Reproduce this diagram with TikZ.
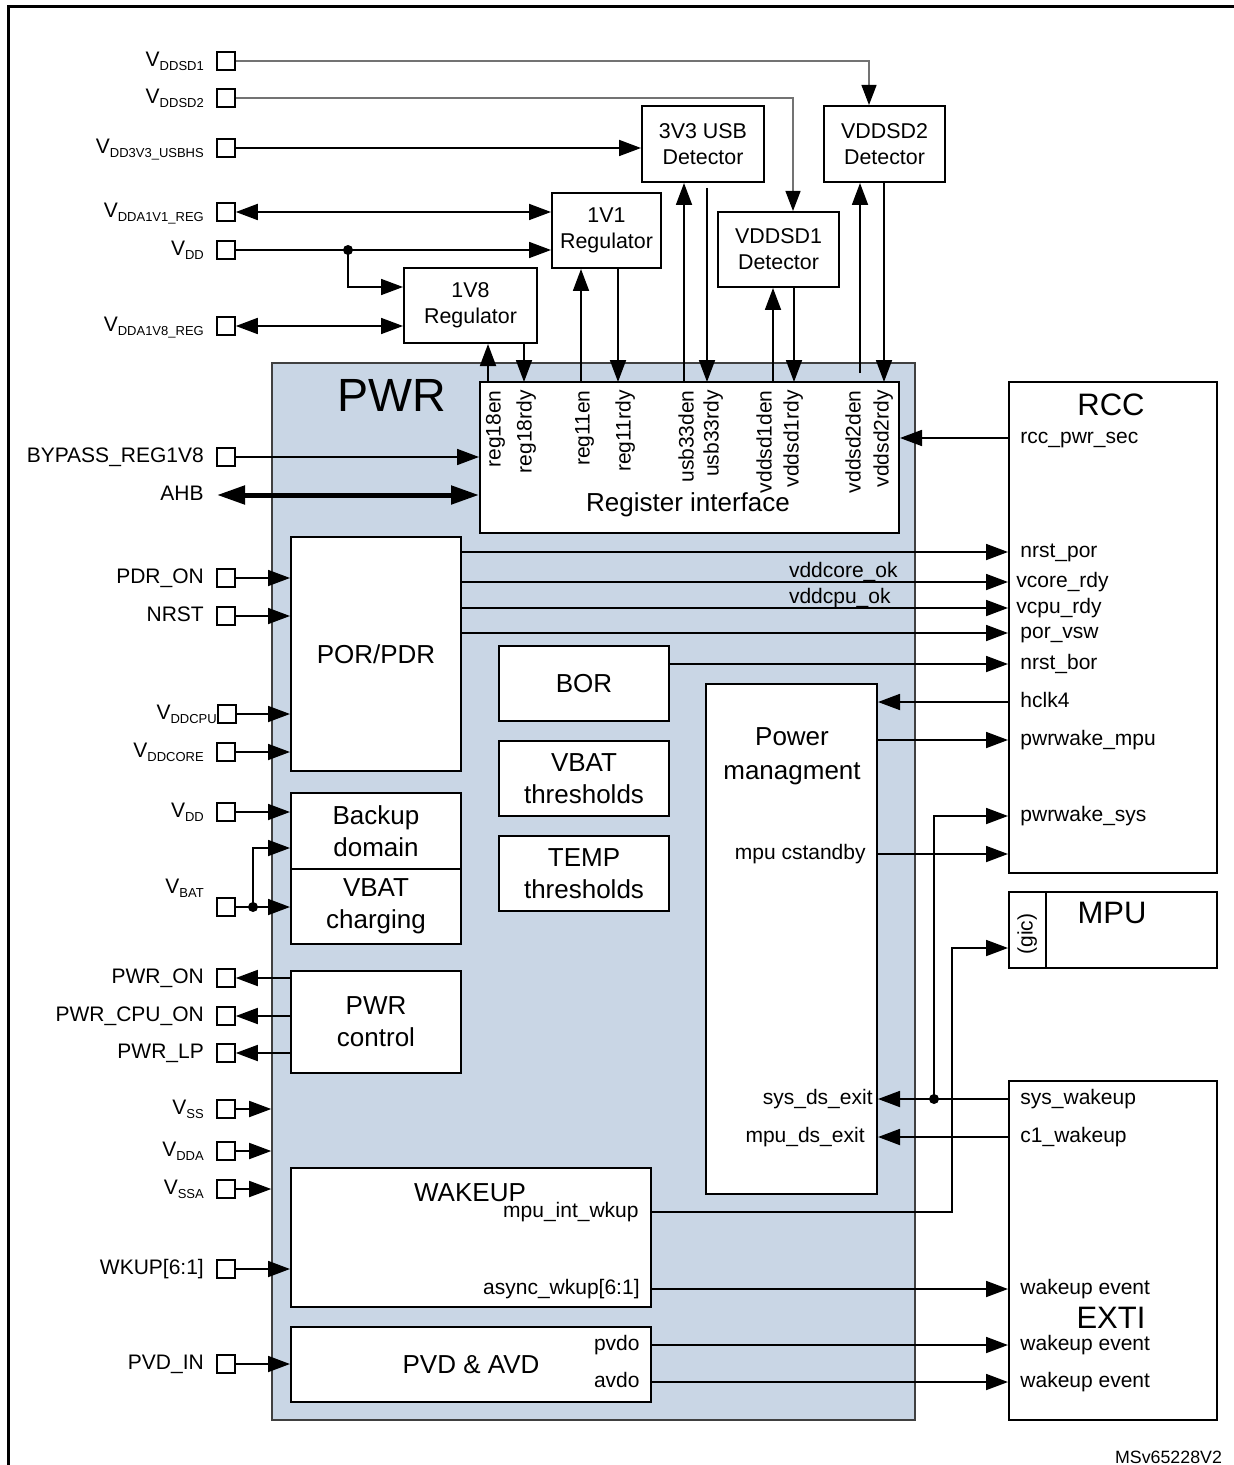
\documentclass[tikz,border=0pt]{standalone}
\usepackage{fontspec}
\setmainfont{Liberation Sans}
\usetikzlibrary{arrows.meta}

\definecolor{pwrblue}{RGB}{201,214,229}
\newcommand\vname[1]{V\raisebox{-2pt}{\fontsize{6.5}{7}\selectfont #1}}

\tikzset{
  boxat/.style n args={4}{minimum width={(#3-#1)*0.5pt},minimum height={(#4-#2)*0.5pt},
    at={({(#1+#3)/2},{(#2+#4)/2})}},
  blk/.style={draw,fill=white,line width=1pt,inner sep=0pt,align=center,
    font=\fontsize{13}{16}\selectfont},
  det/.style={blk,font=\fontsize{10.7}{13}\selectfont},
  pin/.style={draw,fill=white,line width=0.8pt,minimum size=9pt,inner sep=0pt},
  lbl/.style={inner sep=0pt,text height=7.7pt,text depth=2.2pt,
    font=\fontsize{10.5}{12}\selectfont},
  ttl/.style={inner sep=0pt,font=\fontsize{15.5}{16}\selectfont},
  sig/.style={line width=0.9pt,-{Triangle[length=11pt,width=8pt]}},
  bsig/.style={line width=0.9pt,{Triangle[length=11pt,width=8pt]}-{Triangle[length=11pt,width=8pt]}},
  bus/.style={line width=2.5pt,{Triangle[length=14pt,width=9pt]}-{Triangle[length=14pt,width=9pt]}},
  dot/.style={circle,fill,inner sep=0pt,minimum size=5pt},
}

\begin{document}
\begin{tikzpicture}[x=0.5pt,y=-0.5pt]
\useasboundingbox (0,0) rectangle (1234,1465);
\draw[line width=1.5pt] (8,1470) -- (8,7) -- (1245,7);

% PWR block
\node[boxat={272}{363}{915}{1420},draw=black!75,fill=pwrblue,line width=0.8pt,inner sep=0pt] (pwr) {};
\node[font=\fontsize{23.3}{24}\selectfont] at (392,395) {PWR};

% regulators and detectors
\node[det,boxat={642}{106}{764}{182}] (d33) {3V3 USB\\Detector};
\node[det,boxat={824}{106}{945}{182}] (dsd2) {VDDSD2\\Detector};
\node[det,boxat={718}{212}{839}{287}] (dsd1) {VDDSD1\\Detector};
\node[det,boxat={552}{193}{661}{268}] (r11) {1V1\\Regulator};
\node[det,boxat={404}{268}{537}{343}] (r18) {1V8\\Regulator};

% blocks inside PWR
\node[blk,boxat={480}{382}{899}{533}] (ri) {};
\node[blk,draw=none,fill=none] at (688,505) {Register interface};
\node[blk,boxat={291}{537}{461}{771}] (por) {POR/PDR};
\node[blk,boxat={499}{646}{669}{721}] (bor) {BOR};
\node[blk,boxat={499}{741}{669}{816}] (vbth) {VBAT\\thresholds};
\node[blk,boxat={499}{836}{669}{911}] (tmth) {TEMP\\thresholds};
\node[blk,boxat={291}{793}{461}{869}] (bkp) {Backup\\domain};
\node[blk,boxat={291}{869}{461}{944}] (vchg) {VBAT\\charging};
\node[blk,boxat={291}{971}{461}{1073}] (pctl) {PWR\\control};
\node[blk,boxat={706}{684}{877}{1194}] (pm) {};
\node[blk,draw=none,fill=none,font=\fontsize{13}{17}\selectfont] at (792,756) {Power\\managment};
\node[blk,boxat={291}{1168}{651}{1307}] (wak) {};
\node[blk,draw=none,fill=none] at (470,1193) {WAKEUP};
\node[blk,boxat={291}{1327}{651}{1402}] (pvd) {PVD \& AVD};

% outside blocks
\node[blk,boxat={1009}{382}{1217}{873}] (rcc) {};
\node[ttl] at (1111,405) {RCC};
\node[blk,boxat={1009}{892}{1217}{968}] (mpu) {};
\draw[line width=1pt] ([xshift=19pt]mpu.north west) -- ([xshift=19pt]mpu.south west);
\node[lbl,rotate=90] at (1027,934) {(gic)};
\node[ttl] at (1112,913) {MPU};
\node[blk,boxat={1009}{1081}{1217}{1420}] (exti) {};
\node[ttl] at (1111,1318) {EXTI};

% register interface bits
\foreach \x/\t in {495/reg18en,526/reg18rdy,584/reg11en,625/reg11rdy,688/usb33den,
  713/usb33rdy,766/vddsd1den,793/vddsd1rdy,855/vddsd2den,883/vddsd2rdy}
  \node[lbl,rotate=90,anchor=east] at (\x,390) {\t};
\foreach \n/\x in {c18en/488,c18rdy/524,c11en/581,c11rdy/618,c33den/684,
  c33rdy/707,cs1den/773,cs1rdy/794,cs2den/860,cs2rdy/884}
  \coordinate (\n) at (\x,382);

% pins
\foreach \n/\y/\t in {pSD1/61/{\vname{DDSD1}},pSD2/98/{\vname{DDSD2}},
  pUSB/148/{\vname{DD3V3\_USBHS}},pA1V1/212/{\vname{DDA1V1\_REG}},
  pVDD/250/{\vname{DD}},pA1V8/326/{\vname{DDA1V8\_REG}},
  pBYP/457/{BYPASS\_REG1V8},pPDR/578/{PDR\_ON},pNRST/616/{NRST},
  pCORE/752/{\vname{DDCORE}},pVDD2/812/{\vname{DD}},
  pPON/978/{PWR\_ON},pPCPU/1016/{PWR\_CPU\_ON},pPLP/1053/{PWR\_LP},
  pVSS/1109/{\vname{SS}},pVDDA/1151/{\vname{DDA}},pVSSA/1189/{\vname{SSA}},
  pWKUP/1269/{WKUP[6:1]},pPVD/1364/{PVD\_IN}}{
  \node[pin] (\n) at (226,\y) {};
  \node[lbl,anchor=east] at ([xshift=-6pt]\n.west) {\t};
}
\node[pin] (pCPU) at (227,714) {};
\node[lbl,anchor=east] at (pCPU.west) {\vname{DDCPU}};
\node[pin] (pVBAT) at (226,907) {};
\node[lbl,anchor=east] at ([xshift=-6pt,yshift=9.5pt]pVBAT.west) {\vname{BAT}};
\node[lbl,anchor=east] (ahb) at (204,495) {AHB};

% RCC side labels
\foreach \n/\x/\y/\t in {rSec/1020/438/rcc\_pwr\_sec,rNpor/1020/552/nrst\_por,
  rCore/1016/582/vcore\_rdy,rCpu/1016/608/vcpu\_rdy,rVsw/1020/633/por\_vsw,
  rNbor/1020/664/nrst\_bor,rHclk/1020/702/hclk4,rWmpu/1020/740/pwrwake\_mpu,
  rWsys/1020/816/pwrwake\_sys,eSys/1020/1099/sys\_wakeup,eC1/1020/1137/c1\_wakeup,
  eW1/1020/1289/wakeup event,eW2/1020/1345/wakeup event,eW3/1020/1382/wakeup event}
  \node[lbl,anchor=west] (\n) at (\x,\y) {\t};

% labels inside PWR blocks
\node[lbl,anchor=base east] (okcore) at (898,577) {vddcore\_ok};
\node[lbl,anchor=base east] (okcpu) at (891,603) {vddcpu\_ok};
\node[lbl,anchor=east] (mStby) at (866,854) {mpu cstandby};
\node[lbl,anchor=east] (mSys) at (873,1099) {sys\_ds\_exit};
\node[lbl,anchor=east] (mMpu) at (865,1137) {mpu\_ds\_exit};
\node[lbl,anchor=east] (wInt) at (639,1212) {mpu\_int\_wkup};
\node[lbl,anchor=east] (wAsync) at (640,1289) {async\_wkup[6:1]};
\node[lbl,anchor=east] (vPvdo) at (640,1345) {pvdo};
\node[lbl,anchor=east] (vAvdo) at (640,1382) {avdo};

% supplies on top
\draw[line width=0.6pt,draw=black!55,-{Triangle[length=10pt,width=7.5pt,black]}]
  (pSD1.east) -| ([xshift=-7.75pt]dsd2.north);
\draw[line width=0.6pt,draw=black!55,-{Triangle[length=10pt,width=7.5pt,black]}]
  (pSD2.east) -| ([xshift=7.25pt]dsd1.north);
\draw[sig] (pUSB.east) -- (d33.west |- pUSB);
\draw[bsig] (pA1V1.east) -- (r11.west |- pA1V1);
\draw[sig] (pVDD.east) -- (r11.west |- pVDD);
\node[dot] (j1) at (348,250) {};
\draw[sig] (j1.center) |- ([yshift=9.25pt]r18.west);
\draw[bsig] (pA1V8.east) -- (r18.west |- pA1V8);

% enable / ready
\draw[sig] (c18en) -- (c18en |- r18.south);
\draw[sig] (c18rdy |- r18.south) -- (c18rdy);
\draw[sig] (c11en) -- (c11en |- r11.south);
\draw[sig] (c11rdy |- r11.south) -- (c11rdy);
\draw[sig] (c33den) -- (c33den |- d33.south);
\draw[sig] ([yshift=-2.5pt]c33rdy |- d33.south) -- (c33rdy);
\draw[sig] (cs1den) -- (cs1den |- dsd1.south);
\draw[sig] (cs1rdy |- dsd1.south) -- (cs1rdy);
\draw[sig] ([yshift=4.5pt]cs2den) -- (cs2den |- dsd2.south);
\draw[sig] (cs2rdy |- dsd2.south) -- (cs2rdy);

% left side
\draw[sig] (pBYP.east) -- (ri.west |- pBYP);
\draw[bus] ([xshift=6.5pt]ahb.east) -- (ri.west |- ahb.east);
\draw[sig] (pPDR.east) -- (por.west |- pPDR);
\draw[sig] (pNRST.east) -- (por.west |- pNRST);
\draw[sig] (pCPU.east) -- (por.west |- pCPU);
\draw[sig] (pCORE.east) -- (por.west |- pCORE);
\draw[sig] (pVDD2.east) -- (bkp.west |- pVDD2);
\draw[sig] (pVBAT.east) -- (vchg.west |- pVBAT);
\node[dot] (j2) at (253,907) {};
\draw[sig] (j2.center) |- ([yshift=-8.5pt]bkp.west);
\draw[sig] (pctl.west |- pPON) -- (pPON.east);
\draw[sig] (pctl.west |- pPCPU) -- (pPCPU.east);
\draw[sig] (pctl.west |- pPLP) -- (pPLP.east);
\draw[sig] (pVSS.east) -- (pwr.west |- pVSS);
\draw[sig] (pVDDA.east) -- (pwr.west |- pVDDA);
\draw[sig] (pVSSA.east) -- (pwr.west |- pVSSA);
\draw[sig] (pWKUP.east) -- (wak.west |- pWKUP);
\draw[sig] (pPVD.east) -- (pvd.west |- pPVD);

% right side
\draw[sig] (rcc.west |- rSec) -- (ri.east |- rSec);
\draw[sig] (por.east |- rNpor) -- (rcc.west |- rNpor);
\draw[sig] (por.east |- rCore) -- (rcc.west |- rCore);
\draw[sig] (por.east |- rCpu) -- (rcc.west |- rCpu);
\draw[sig] (por.east |- rVsw) -- (rcc.west |- rVsw);
\draw[sig] (bor.east |- rNbor) -- (rcc.west |- rNbor);
\draw[sig] (rcc.west |- rHclk) -- (pm.east |- rHclk);
\draw[sig] (pm.east |- rWmpu) -- (rcc.west |- rWmpu);
\draw[sig] (pm.east |- mStby) -- (rcc.west |- mStby);
\draw[sig] (exti.west |- eSys) -- (pm.east |- eSys);
\node[dot] (j3) at (934,1099) {};
\draw[sig] (j3.center) |- (rcc.west |- rWsys);
\draw[sig] (exti.west |- eC1) -- (pm.east |- eC1);
\coordinate (kGic) at (952,948);
\draw[sig] (wak.east |- wInt) -| (kGic) -- (mpu.west |- kGic);
\draw[sig] (wak.east |- eW1) -- (exti.west |- eW1);
\draw[sig] (pvd.east |- eW2) -- (exti.west |- eW2);
\draw[sig] (pvd.east |- eW3) -- (exti.west |- eW3);

\node[font=\fontsize{8.9}{10}\selectfont,anchor=east] at (1229,1457) {MSv65228V2};
\end{tikzpicture}
\end{document}
